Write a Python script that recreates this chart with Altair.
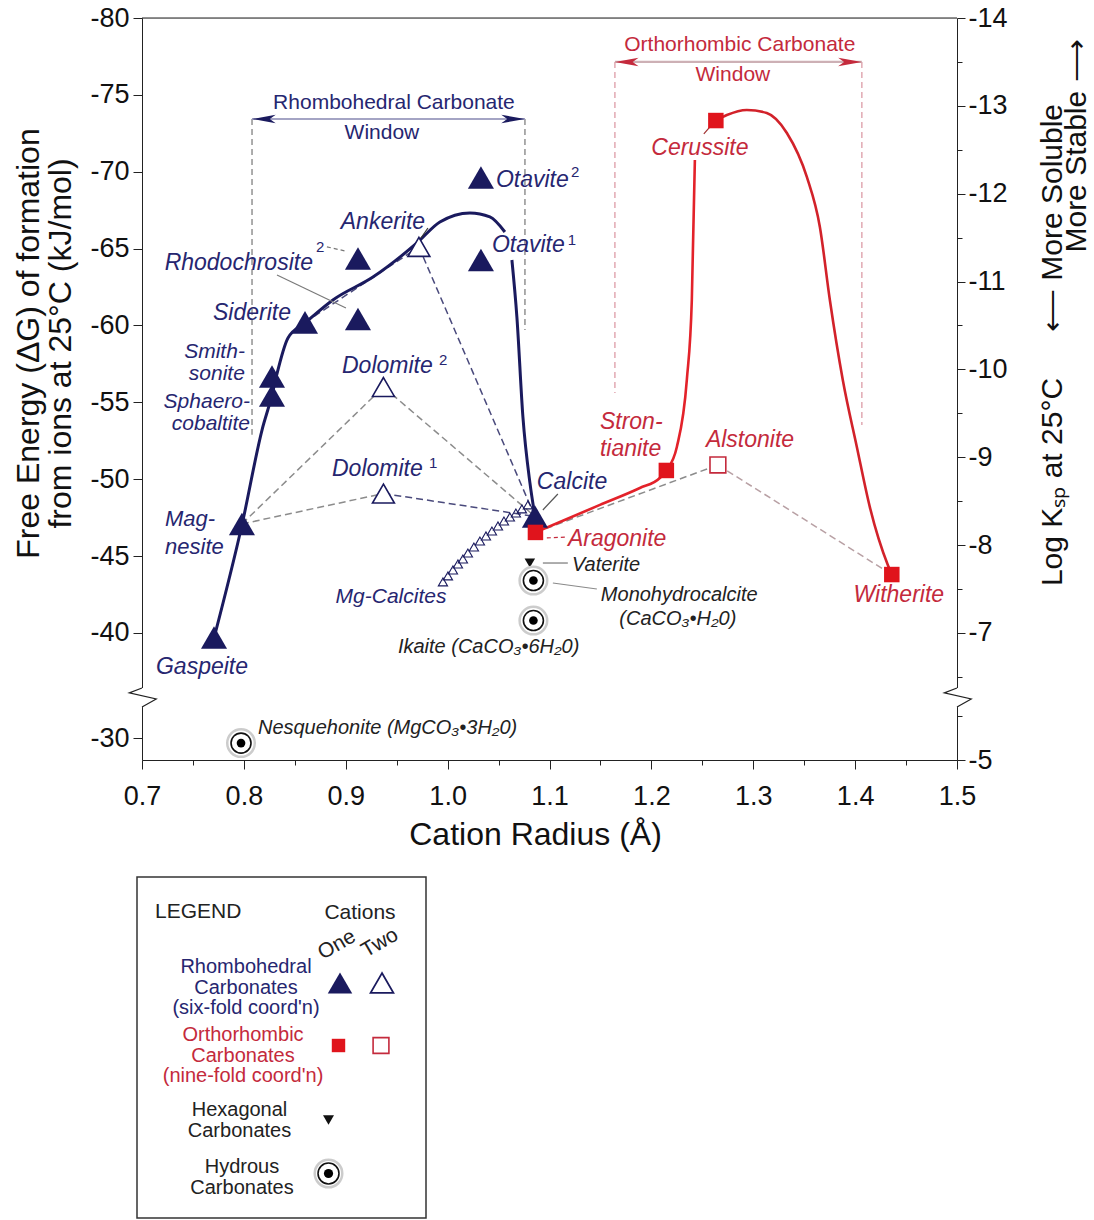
import altair as alt
import pandas as pd

# ================= values =================
# x = cation radius (Angstrom), g = free energy of formation (kJ/mol)

# Rhombohedral carbonates, one cation (filled triangles)
rh1_name = ["Gaspeite", "Magnesite", "Sphaerocobaltite", "Smithsonite", "Siderite",
            "Rhodochrosite1", "Rhodochrosite2", "Otavite1", "Otavite2", "Calcite"]
rh1_r = [0.7707, 0.7981, 0.8276, 0.8276, 0.8600, 0.9120, 0.9120, 1.0327, 1.0327, 1.0857]
rh1_g = [-39.71, -47.09, -55.45, -56.68, -60.20, -60.42, -64.36, -64.26, -69.63, -47.58]

# Rhombohedral carbonates, two cations (open triangles)
rh2_name = ["Ankerite", "Dolomite2", "Dolomite1"]
rh2_r = [0.9718, 0.9370, 0.9370]
rh2_g = [-65.11, -56.00, -49.07]

# Mg-calcites (small open triangles)
mgcal_r = [0.9954, 1.0003, 1.0052, 1.0101, 1.0150, 1.0199, 1.0258, 1.0317,
           1.0376, 1.0435, 1.0494, 1.0553, 1.0611, 1.0670, 1.0729, 1.0788]
mgcal_g = [-43.32, -43.71, -44.10, -44.49, -44.81, -45.20, -45.59, -45.98,
           -46.31, -46.63, -46.96, -47.28, -47.54, -47.80, -48.07, -48.33]

# Orthorhombic carbonates, one cation (filled squares)
or1_name = ["Aragonite", "Strontianite", "Cerussite", "Witherite"]
or1_r = [1.0862, 1.2147, 1.2633, 1.4360]
or1_g = [-46.54, -50.57, -73.33, -43.80]

# Orthorhombic carbonates, two cations (open squares)
or2_name = ["Alstonite"]
or2_r = [1.2653]
or2_g = [-50.93]

# Hexagonal carbonate
hex_name = ["Vaterite"]
hex_r = [1.0807]
hex_g = [-44.55]

# Hydrous carbonates
hyd_name = ["Monohydrocalcite", "Ikaite", "Nesquehonite"]
hyd_r = [1.0842, 1.0842, 0.7972]
hyd_g = [-43.41, -40.81, -29.67]

# Rhombohedral trend curve (interrupted behind the Otavite label)
rhc1_r = [0.7707, 0.7981, 0.8178, 0.8276, 0.8315, 0.8433, 0.8600, 0.8874, 0.9267, 0.9699,
          0.9924, 1.0219, 1.0415, 1.0562]
rhc1_g = [-39.67, -47.02, -53.20, -55.48, -56.59, -59.19, -60.16, -61.66, -63.15, -65.37,
          -66.73, -67.32, -67.06, -66.08]
rhc2_r = [1.0631, 1.0680, 1.0739, 1.0808, 1.0857]
rhc2_g = [-64.26, -60.55, -54.05, -49.76, -47.61]

# Orthorhombic trend curve (two pieces)
orc1_r = [1.0862, 1.1102, 1.1495, 1.1887, 1.2083, 1.2147, 1.2250, 1.2348, 1.2397, 1.2427]
orc1_g = [-46.54, -47.22, -48.33, -49.43, -50.08, -50.57, -52.10, -56.46, -61.66, -70.76]
orc2_r = [1.2633, 1.2741, 1.2937, 1.3133, 1.3330, 1.3526, 1.3654, 1.3752, 1.3879,
          1.4017, 1.4144, 1.4321, 1.4360]
orc2_g = [-73.33, -73.69, -74.02, -73.82, -72.52, -69.66, -66.41, -61.66, -56.46,
          -52.10, -48.20, -44.42, -43.80]

# dashed tie lines between end members and double carbonates
tie_from = ["Magnesite", "Dolomite1", "Magnesite", "Dolomite2", "Siderite", "Ankerite", "Aragonite", "Alstonite"]
tie_to = ["Dolomite1", "Calcite", "Dolomite2", "Calcite", "Ankerite", "Calcite", "Alstonite", "Witherite"]

# stability windows
win_left = [0.8080, 1.1642]
win_right = [1.0759, 1.4066]
win_arrow_g = [-73.43, -77.14]
win_left_bottom = [-52.90, -55.61]
win_right_bottom = [-59.70, -53.53]

# labels (one line)
navy_lab = ["Gaspeite", "Siderite", "Rhodochrosite", "Ankerite", "Otavite", "Otavite",
            "Dolomite", "Dolomite", "Calcite"]
navy_lab_r = [0.7589, 0.8462, 0.8678, 0.9365, 1.0474, 1.0435, 0.8963, 0.8865, 1.0876]
navy_lab_g = [-37.79, -60.81, -64.07, -66.73, -69.46, -65.24, -57.37, -50.67, -49.82]
navy_lab_align = ["center", "right", "right", "center", "left", "left", "left", "left", "left"]

# labels (two lines; position = first line)
navy_ml = ["Mag-\nnesite", "Sphaero-\ncobaltite", "Smith-\nsonite"]
navy_ml_r = [0.7226, 0.8060, 0.8010]
navy_ml_g = [-47.41, -55.02, -58.28]
navy_ml_align = ["left", "right", "right"]
navy_ml_lh = [28, 22, 22]
navy_ml_size = [22, 21, 21]

mgc_lab = ["Mg-Calcites"]
mgc_lab_r = [0.9444]
mgc_lab_g = [-42.34]

sup_lab = ["2", "2", "1", "2", "1"]
sup_r = [0.8708, 1.1210, 1.1180, 0.9915, 0.9817]
sup_g = [-65.11, -69.98, -65.56, -57.76, -51.06]

red_lab = ["Cerussite", "Alstonite", "Aragonite", "Witherite"]
red_lab_r = [1.2476, 1.2535, 1.1181, 1.4429]
red_lab_g = [-71.54, -52.55, -46.11, -42.47]
red_lab_align = ["center", "left", "left", "center"]
red_ml = ["Stron-\ntianite"]
red_ml_r = [1.1495]
red_ml_g = [-53.72]

blk_lab = ["Vaterite", "Monohydrocalcite", "(CaCO\u2083\u2022H\u20820)", "Ikaite (CaCO\u2083\u20226H\u20820)",
           "Nesquehonite (MgCO\u2083\u20223H\u20820)"]
blk_lab_r = [1.1220, 1.1504, 1.2260, 0.9512, 0.8138]
blk_lab_g = [-44.42, -42.47, -40.91, -39.09, -30.65]
blk_lab_align = ["left", "left", "center", "left", "left"]

win_lab = ["Rhombohedral Carbonate", "Window", "Orthorhombic Carbonate", "Window"]
win_lab_r = [0.9473, 0.9355, 1.2868, 1.2800]
win_lab_g = [-74.47, -72.52, -78.24, -76.29]

# leader lines (from label to symbol)
lead_r = [0.8325, 1.1082, 1.0935, 1.1033, 0.9807, 1.2584]
lead_g = [-63.28, -49.04, -44.55, -43.25, -66.34, -72.98]
lead_r2 = [0.9002, 1.0935, 1.1180, 1.1465, 0.9738, 1.2515]
lead_g2 = [-61.14, -48.00, -44.55, -42.86, -65.69, -72.46]
dlead_r = [0.8815, 1.0974]
dlead_g = [-65.11, -46.18]
dlead_r2 = [0.8992, 1.1161]
dlead_g2 = [-64.85, -46.24]

# axis break marks
zig_g = [-36.42, -36.10, -35.71, -32.01]

# legend texts
leg_text = ["Rhombohedral\nCarbonates\n(six-fold coord'n)",
            "Orthorhombic\nCarbonates\n(nine-fold coord'n)",
            "Hexagonal\nCarbonates", "Hydrous\nCarbonates"]

# ================= styles =================
NAVY = "#1a1a5e"
NAVY_T = "#262670"
RED = "#e0141c"
RED_T = "#c42a3c"
RED_C = "#d2222a"
GREY = "#8c8c8c"
NAVY_D = "#4a4a7c"
PINK_D = "#b8a0a4"
FONT = "Liberation Sans"

XS = alt.Scale(domain=[0.7, 1.5], nice=False, zero=False)
YS = alt.Scale(type="linear", domain=[-80, -35.64, -32.47, -28.57], range=[0, 682, 682.01, 742],
               nice=False, zero=False)
YSK = alt.Scale(type="linear", domain=[-14, -6.237, -5.682, -5], range=[0, 682, 682.01, 742],
                nice=False, zero=False)
PXS = alt.Scale(domain=[0, 815], range=[0, 815], nice=False, zero=False)
PYS = alt.Scale(domain=[0, 742], range=[0, 742], nice=False, zero=False)

X_AXIS = alt.Axis(
    title="Cation Radius (\u00c5)",
    values=[0.7, 0.75, 0.8, 0.85, 0.9, 0.95, 1.0, 1.05, 1.1, 1.15, 1.2, 1.25, 1.3, 1.35, 1.4, 1.45, 1.5],
    labelExpr="round(datum.value*100) % 10 != 0 ? '' : format(datum.value, '.1f')",
    tickSize={"condition": {"test": "round(datum.value*100) % 10 != 0", "value": 5}, "value": 9},
    labelFontSize=27, titleFontSize=32, titleFontWeight="normal", labelFlush=False,
    labelOverlap=False, labelPadding=14, titlePadding=10, titleX=393,
    domainColor="#222", tickColor="#222", labelColor="#111", titleColor="#111", grid=False,
)
Y_AXIS = alt.Axis(
    title=["Free Energy (\u0394G) of formation", "from ions at 25\u00b0C (kJ/mol)"],
    values=[-80, -75, -70, -65, -60, -55, -50, -45, -40, -30],
    labelExpr="'-' + format(abs(datum.value), 'd')",
    tickSize=9, labelFontSize=27, titleFontSize=32, titleFontWeight="normal", titleLineHeight=32,
    labelPadding=4, titlePadding=12, titleY=325,
    domainColor="#222", tickColor="#222", labelColor="#111", titleColor="#111", grid=False,
)
K_AXIS = alt.Axis(
    orient="right", title=None,
    values=[-14, -13.5, -13, -12.5, -12, -11.5, -11, -10.5, -10, -9.5, -9, -8.5, -8, -7.5, -7, -6.5, -5.5, -5],
    labelExpr="round(datum.value*10) % 10 != 0 ? '' : '-' + format(abs(datum.value), 'd')",
    tickSize={"condition": {"test": "round(datum.value*10) % 10 != 0", "value": 5}, "value": 8},
    labelFontSize=27, labelPadding=3, labelOverlap=False,
    domainColor="#222", tickColor="#222", labelColor="#111", grid=False,
)


def XY(xf="r", yf="g"):
    return dict(x=alt.X(f"{xf}:Q", scale=XS, axis=X_AXIS), y=alt.Y(f"{yf}:Q", scale=YS, axis=Y_AXIS))


def SEG():
    d = XY()
    d.update(x2=alt.X2("r2:Q"), y2=alt.Y2("g2:Q"))
    return d


def PXY():
    return dict(x=alt.X("px:Q", scale=PXS, axis=None), y=alt.Y("py:Q", scale=PYS, axis=None))


pos = {}
for names, rs, gs in [(rh1_name, rh1_r, rh1_g), (rh2_name, rh2_r, rh2_g),
                      (or1_name, or1_r, or1_g), (or2_name, or2_r, or2_g)]:
    for n, r, g in zip(names, rs, gs):
        pos[n] = (r, g)

tie_colors = [GREY, NAVY_D, GREY, GREY, NAVY_D, NAVY_D, GREY, PINK_D]
ties = pd.DataFrame({
    "r": [pos[a][0] for a in tie_from], "g": [pos[a][1] for a in tie_from],
    "r2": [pos[b][0] for b in tie_to], "g2": [pos[b][1] for b in tie_to], "c": tie_colors,
})

layers = []

# window vertical dashed lines
wl = pd.DataFrame({"r": win_left + win_right,
                   "g": win_arrow_g + win_arrow_g,
                   "g2": win_left_bottom + win_right_bottom,
                   "c": ["#8a8a8a", "#dfa3ad", "#8a8a8a", "#dfa3ad"]})
layers.append(alt.Chart(wl).mark_rule(strokeDash=[6, 4], strokeWidth=1.4).encode(
    **XY(), y2=alt.Y2("g2:Q"), color=alt.Color("c:N", scale=None)))
# window arrows
wa = pd.DataFrame({"r": win_left, "r2": win_right, "g": win_arrow_g, "c": ["#a4a4c4", "#cdb0b5"]})
layers.append(alt.Chart(wa).mark_rule(strokeWidth=2.2).encode(
    **XY(), x2=alt.X2("r2:Q"), color=alt.Color("c:N", scale=None)))
ah_l = pd.DataFrame({"r": win_left, "g": win_arrow_g, "c": [NAVY, RED_T]})
ah_r = pd.DataFrame({"r": win_right, "g": win_arrow_g, "c": [NAVY, RED_T]})
layers.append(alt.Chart(ah_l).mark_point(shape="M0,0L2,-0.36L1.5,0L2,0.36Z", size=560, filled=True, opacity=1)
              .encode(**XY(), color=alt.Color("c:N", scale=None)))
layers.append(alt.Chart(ah_r).mark_point(shape="M0,0L-2,-0.36L-1.5,0L-2,0.36Z", size=560, filled=True, opacity=1)
              .encode(**XY(), color=alt.Color("c:N", scale=None)))

# tie lines
layers.append(alt.Chart(ties).mark_rule(strokeDash=[7, 4], strokeWidth=1.5).encode(
    **SEG(), color=alt.Color("c:N", scale=None)))

# Mg-calcites
layers.append(alt.Chart(pd.DataFrame({"r": mgcal_r, "g": mgcal_g})).mark_point(
    shape="triangle-up", size=85, filled=False, color=NAVY, strokeWidth=1.1, opacity=1).encode(**XY()))

# curves
for cr, cg, col, w in [(rhc1_r, rhc1_g, NAVY, 3), (rhc2_r, rhc2_g, NAVY, 3),
                       (orc1_r, orc1_g, "#e3222a", 2.6), (orc2_r, orc2_g, RED_C, 2.6)]:
    layers.append(alt.Chart(pd.DataFrame({"r": cr, "g": cg, "i": range(len(cr))})).mark_line(
        interpolate="monotone", color=col, strokeWidth=w).encode(**XY(), order="i:Q"))

# leaders
ld = pd.DataFrame({"r": lead_r, "g": lead_g, "r2": lead_r2, "g2": lead_g2,
                   "c": ["#7a7a7a", "#555555", "#777777", "#8a8a8a", "#333333", "#a03030"]})
layers.append(alt.Chart(ld).mark_rule(strokeWidth=1.2).encode(**SEG(), color=alt.Color("c:N", scale=None)))
dld = pd.DataFrame({"r": dlead_r, "g": dlead_g, "r2": dlead_r2, "g2": dlead_g2, "c": ["#777777", RED_T]})
layers.append(alt.Chart(dld).mark_rule(strokeWidth=1.2, strokeDash=[4, 3]).encode(
    **SEG(), color=alt.Color("c:N", scale=None)))

# markers
layers.append(alt.Chart(pd.DataFrame({"r": rh1_r, "g": rh1_g})).mark_point(
    shape="triangle-up", size=680, filled=True, color=NAVY, opacity=1).encode(**XY()))
layers.append(alt.Chart(pd.DataFrame({"r": rh2_r, "g": rh2_g})).mark_point(
    shape="triangle-up", size=480, fill="white", stroke=NAVY, strokeWidth=1.6, opacity=1, fillOpacity=1).encode(**XY()))
layers.append(alt.Chart(pd.DataFrame({"r": or1_r, "g": or1_g})).mark_point(
    shape="square", size=240, filled=True, color=RED, opacity=1).encode(**XY()))
layers.append(alt.Chart(pd.DataFrame({"r": or2_r, "g": or2_g})).mark_point(
    shape="square", size=250, fill="white", stroke=RED_T, strokeWidth=1.6, opacity=1, fillOpacity=1).encode(**XY()))
layers.append(alt.Chart(pd.DataFrame({"r": hex_r, "g": hex_g})).mark_point(
    shape="triangle-down", size=110, filled=True, color="#111111", opacity=1).encode(**XY()))
hyd = pd.DataFrame({"r": hyd_r, "g": hyd_g})
layers.append(alt.Chart(hyd).mark_point(shape="circle", size=760, filled=False, color="#cccccc",
                                        strokeWidth=2.5, opacity=1).encode(**XY()))
layers.append(alt.Chart(hyd).mark_point(shape="circle", size=400, fill="white", stroke="#111111",
                                        strokeWidth=1.6, opacity=1, fillOpacity=1).encode(**XY()))
layers.append(alt.Chart(hyd).mark_point(shape="circle", size=75, filled=True, color="#000000",
                                        opacity=1).encode(**XY()))


# text labels
def text_layer(texts, rs, gs, aligns, color, size, style, lh=None):
    d = pd.DataFrame({"t": texts, "r": rs, "g": gs, "a": aligns})
    out = []
    for al in ["left", "center", "right"]:
        sub = d[d["a"] == al]
        if len(sub):
            kw = dict(align=al, baseline="middle", fontSize=size, color=color, fontStyle=style, font=FONT)
            if lh is not None:
                kw.update(lineBreak="\n", lineHeight=lh)
            out.append(alt.Chart(sub).mark_text(**kw).encode(**XY(), text="t:N"))
    return out


layers += text_layer(navy_lab, navy_lab_r, navy_lab_g, navy_lab_align, NAVY_T, 23, "italic")
for t, r, g, a, lh, fs in zip(navy_ml, navy_ml_r, navy_ml_g, navy_ml_align, navy_ml_lh, navy_ml_size):
    layers += text_layer([t], [r], [g], [a], NAVY_T, fs, "italic", lh)
layers += text_layer(mgc_lab, mgc_lab_r, mgc_lab_g, ["center"], NAVY_T, 21, "italic")
layers += text_layer(sup_lab, sup_r, sup_g, ["left"] * len(sup_lab), NAVY_T, 15, "normal")
layers += text_layer(red_lab, red_lab_r, red_lab_g, red_lab_align, RED_T, 23, "italic")
layers += text_layer(red_ml, red_ml_r, red_ml_g, ["left"], RED_T, 23, "italic", 27)
layers += text_layer(blk_lab, blk_lab_r, blk_lab_g, blk_lab_align, "#222222", 20, "italic")
layers += text_layer(win_lab[:2], win_lab_r[:2], win_lab_g[:2], ["center", "center"], NAVY_T, 21, "normal")
layers += text_layer(win_lab[2:], win_lab_r[2:], win_lab_g[2:], ["center", "center"], RED_T, 21, "normal")

# top frame line
layers.append(alt.Chart(pd.DataFrame({"r": [0.7], "r2": [1.5], "g": [-80]})).mark_rule(
    color="#222", strokeWidth=1.2).encode(**XY(), x2=alt.X2("r2:Q")))
# axis break marks
for base in [0.7, 1.5]:
    cover = pd.DataFrame({"r": [base], "g": [zig_g[0]], "g2": [zig_g[-1]]})
    layers.append(alt.Chart(cover).mark_rule(color="white", strokeWidth=5).encode(**XY(), y2=alt.Y2("g2:Q")))
    zz = pd.DataFrame({"r": [base, base - 0.0125, base + 0.0140, base], "g": zig_g, "i": [0, 1, 2, 3]})
    layers.append(alt.Chart(zz).mark_line(color="#222", strokeWidth=1.2).encode(**XY(), order="i:Q"))

main = alt.layer(*layers)

# right log Ksp axis
right = alt.Chart(pd.DataFrame({"k": [-14, -5]})).mark_point(opacity=0).encode(
    y=alt.Y("k:Q", scale=YSK, axis=K_AXIS))

# ---------- legend panel and right titles (pixel-like scale) ----------
plab = []
box = pd.DataFrame({"px": [-5], "py": [859], "px2": [284], "py2": [1200]})
plab.append(alt.Chart(box).mark_rect(fill="white", stroke="#333333", strokeWidth=1.5).encode(
    **PXY(), x2=alt.X2("px2:Q"), y2=alt.Y2("py2:Q")))

plab.append(alt.Chart(pd.DataFrame({"t": ["LEGEND"], "px": [13], "py": [894]})).mark_text(
    align="left", baseline="middle", fontSize=21, color="#222222", font=FONT).encode(**PXY(), text="t:N"))
plab.append(alt.Chart(pd.DataFrame({"t": ["Cations"], "px": [218], "py": [895]})).mark_text(
    align="center", baseline="middle", fontSize=21, color="#222222", font=FONT).encode(**PXY(), text="t:N"))
ldf = pd.DataFrame({"t": leg_text, "c": [NAVY_T, RED_T, "#222222", "#222222"],
                    "px": [104, 101, 97.5, 100], "py": [949, 1017, 1092, 1149]})
plab.append(alt.Chart(ldf).mark_text(align="center", baseline="middle", fontSize=20, font=FONT,
                                     lineBreak="\n", lineHeight=20.5)
            .encode(**PXY(), text="t:N", color=alt.Color("c:N", scale=None)))
plab.append(alt.Chart(pd.DataFrame({"t": ["One", "Two"], "px": [195, 238], "py": [927, 925]})).mark_text(
    align="center", baseline="middle", fontSize=21, angle=330, color="#222222", font=FONT)
    .encode(**PXY(), text="t:N"))

plab.append(alt.Chart(pd.DataFrame({"px": [198], "py": [965]})).mark_point(
    shape="triangle-up", size=600, filled=True, color=NAVY, opacity=1).encode(**PXY()))
plab.append(alt.Chart(pd.DataFrame({"px": [240], "py": [965]})).mark_point(
    shape="triangle-up", size=520, fill="white", stroke=NAVY, strokeWidth=1.8, opacity=1, fillOpacity=1).encode(**PXY()))
plab.append(alt.Chart(pd.DataFrame({"px": [196.5], "py": [1027.5]})).mark_point(
    shape="square", size=180, filled=True, color=RED, opacity=1).encode(**PXY()))
plab.append(alt.Chart(pd.DataFrame({"px": [239], "py": [1027.5]})).mark_point(
    shape="square", size=250, fill="white", stroke=RED_T, strokeWidth=1.6, opacity=1, fillOpacity=1).encode(**PXY()))
plab.append(alt.Chart(pd.DataFrame({"px": [186.5], "py": [1102]})).mark_point(
    shape="triangle-down", size=120, filled=True, color="#111111", opacity=1).encode(**PXY()))
bull = pd.DataFrame({"px": [186.5], "py": [1155.5]})
plab.append(alt.Chart(bull).mark_point(shape="circle", size=760, filled=False, color="#cccccc",
                                       strokeWidth=2.5, opacity=1).encode(**PXY()))
plab.append(alt.Chart(bull).mark_point(shape="circle", size=440, fill="white", stroke="#111111",
                                       strokeWidth=1.6, opacity=1, fillOpacity=1).encode(**PXY()))
plab.append(alt.Chart(bull).mark_point(shape="circle", size=85, filled=True, color="#000000",
                                       opacity=1).encode(**PXY()))

rt = pd.DataFrame({"t": ["Log K\u209b\u209a at 25\u00b0C", "\u27f5 More Soluble", "More Stable \u27f6"],
                   "px": [911, 911, 935], "py": [464, 200, 128]})
plab.append(alt.Chart(rt).mark_text(align="center", baseline="middle", fontSize=30, angle=270,
                                    color="#111111", font=FONT).encode(**PXY(), text="t:N"))

pix = alt.layer(*plab)

chart = alt.layer(main, right, pix).resolve_scale(x="independent", y="independent").properties(
    width=815, height=742,
    autosize=alt.AutoSizeParams(type="none"),
    padding={"left": 142, "top": 18, "right": 137, "bottom": 460},
).configure_view(stroke=None).configure_axis(
    labelFont=FONT, titleFont=FONT, grid=False
).configure(background="white")

chart.save("out.html", embed_options={"renderer": "svg", "actions": False})
